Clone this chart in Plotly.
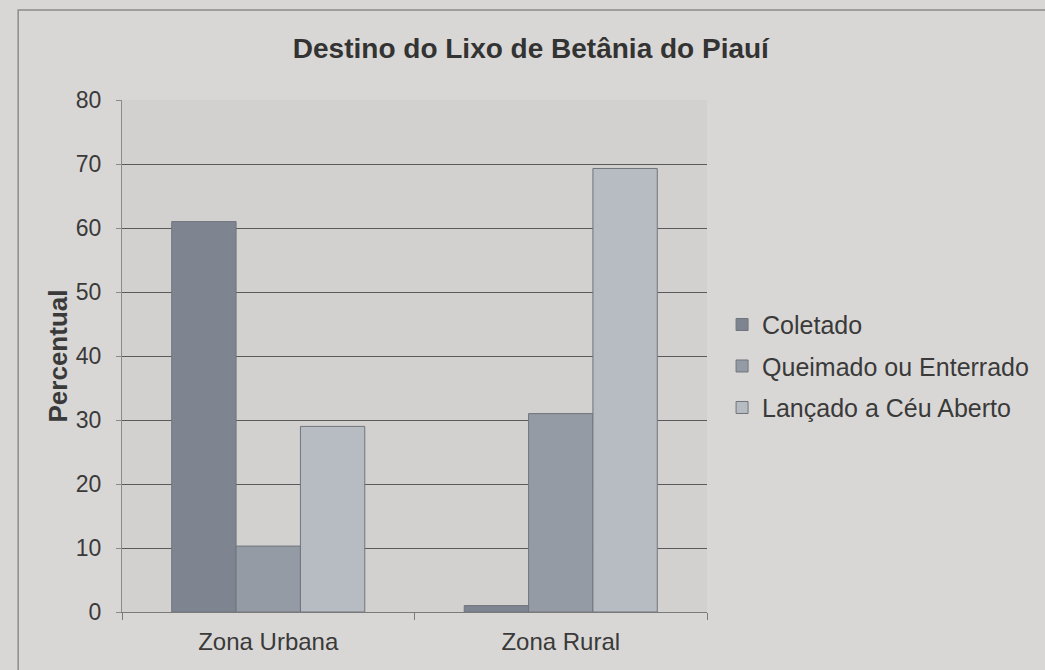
import plotly.graph_objects as go

# Destination of household waste, Betânia do Piauí (%)
categories = ["Zona Urbana", "Zona Rural"]
series_names = ["Coletado", "Queimado ou Enterrado", "Lançado a Céu Aberto"]
coletado = [61, 1]
queimado = [10.3, 31]
lancado = [29, 69.3]
y_ticks = [0, 10, 20, 30, 40, 50, 60, 70, 80]

colors = ["#7e8591", "#959ba5", "#b7bbc2"]
values = [coletado, queimado, lancado]

fig = go.Figure()
for i, (name, vals, col) in enumerate(zip(series_names, values, colors)):
    fig.add_trace(go.Bar(
        x=categories, y=vals, name=name, legendgroup=f"g{i}",
        marker=dict(color=col, line=dict(color="#70757c", width=1)),
    ))

fig.update_layout(
    width=1045, height=670,
    margin=dict(l=122, r=337, t=100, b=58),
    paper_bgcolor="#d9d7d5",
    plot_bgcolor="#d3d1cf",
    barmode="group",
    bargap=0.34,
    bargroupgap=0,
    font=dict(family="Liberation Sans, Arial, sans-serif", size=24, color="#3a3a3a"),
    title=dict(
        text="<b>Destino do Lixo de Betânia do Piauí</b>",
        x=0.508, xanchor="center", y=0.928, yanchor="middle",
        font=dict(size=28, color="#333333"),
    ),
    legend=dict(
        x=1.024, xanchor="left", y=0.48, yanchor="middle",
        bgcolor="rgba(0,0,0,0)", font=dict(size=25),
        itemwidth=30, tracegroupgap=6,
    ),
    xaxis=dict(
        showline=True, linecolor="#7a7a7a", linewidth=1,
        ticks="outside", ticklen=7, tickcolor="#7a7a7a",
        ticklabelstandoff=8,
        tickson="boundaries", showgrid=False,
        tickfont=dict(size=24),
    ),
    yaxis=dict(
        range=[0, 80], tickvals=y_ticks,
        showline=True, linecolor="#8a8a8a", linewidth=1,
        ticks="outside", ticklen=5, tickcolor="#8a8a8a",
        ticklabelstandoff=10,
        showgrid=True, gridcolor="#5a5a5a", gridwidth=1,
        zeroline=False,
        tickfont=dict(size=23),
        title=dict(text="<b>Percentual</b>", font=dict(size=26), standoff=0),
    ),
)

# outer frame of the chart area
fig.add_shape(type="rect", xref="paper", yref="paper",
              x0=-0.1775, x1=1.6, y0=-0.2, y1=1.176,
              line=dict(color="#8c8c8c", width=1.5), fillcolor="rgba(0,0,0,0)",
              layer="below")

fig.write_html("out.html")
